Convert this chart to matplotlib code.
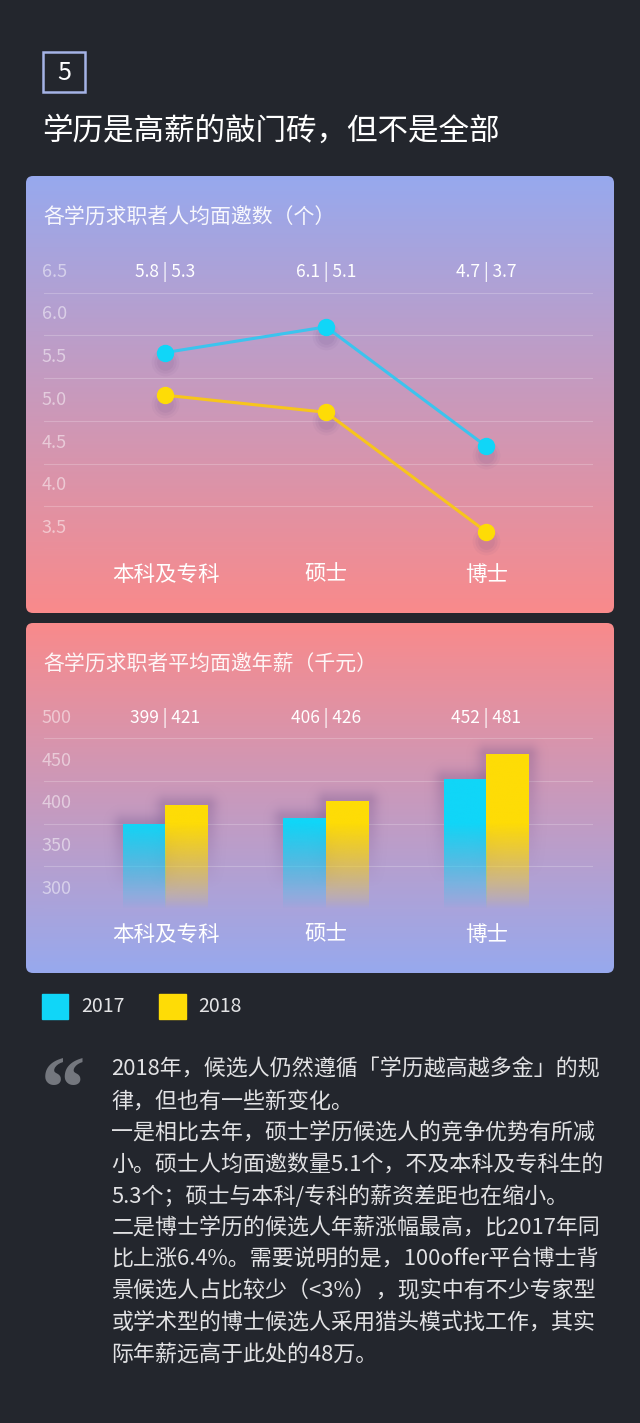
import numpy as np
import matplotlib
matplotlib.use('Agg')
import matplotlib.pyplot as plt
from matplotlib.patches import FancyBboxPatch, Rectangle
from matplotlib.colors import to_rgb
import matplotlib.transforms as mtransforms

plt.rcParams['font.family'] = ['Noto Sans CJK SC', 'DejaVu Sans']

# ---------------- data ----------------
categories = ['本科及专科', '硕士', '博士']
years = ['2017', '2018']
interviews_2017 = [5.8, 6.1, 4.7]
interviews_2018 = [5.3, 5.1, 3.7]
salary_2017 = [399, 406, 452]
salary_2018 = [421, 426, 481]
interview_ticks = [3.5, 4.0, 4.5, 5.0, 5.5, 6.0, 6.5]
salary_ticks = [300, 350, 400, 450, 500]

section_no = '5'
headline = '学历是高薪的敲门砖，但不是全部'
title1 = '各学历求职者人均面邀数（个）'
title2 = '各学历求职者平均面邀年薪（千元）'
paragraph = [
    '2018年，候选人仍然遵循「学历越高越多金」的规',
    '律，但也有一些新变化。',
    '一是相比去年，硕士学历候选人的竞争优势有所减',
    '小。硕士人均面邀数量5.1个，不及本科及专科生的',
    '5.3个；硕士与本科/专科的薪资差距也在缩小。',
    '二是博士学历的候选人年薪涨幅最高，比2017年同',
    '比上涨6.4%。需要说明的是，100offer平台博士背',
    '景候选人占比较少（<3%），现实中有不少专家型',
    '或学术型的博士候选人采用猎头模式找工作，其实',
    '际年薪远高于此处的48万。',
]

# ---------------- style ----------------
W, H, DPI = 640, 1423, 100
BG = '#23262d'
BLUE = '#10d6f8'
YELLOW = '#fedc06'
BLUE_LINE = '#3bc4ee'
YELLOW_LINE = '#f7c51c'
PERI = '#97a9ee'
SALMON = '#f98a8b'
SHADOW = '#6a4a82'

fig = plt.figure(figsize=(W / DPI, H / DPI), dpi=DPI)
fig.patch.set_facecolor(BG)


def fbox(l, t, r, b):
    return [l / W, 1 - b / H, (r - l) / W, (b - t) / H]


bg = fig.add_axes([0, 0, 1, 1])
bg.set_zorder(0)
bg.axis('off')


def gradient_panel(ax, x0, y0, x1, y1, c_top, c_bot):
    patch = FancyBboxPatch((x0, y0), x1 - x0, y1 - y0,
                           boxstyle='round,pad=0,rounding_size=7',
                           fc='none', ec='none')
    ax.add_patch(patch)
    t = np.linspace(0, 1, 256)[:, None, None]
    img = np.array(to_rgb(c_top)) * (1 - t) + np.array(to_rgb(c_bot)) * t
    im = ax.imshow(img, extent=(x0, x1, y1, y0), aspect='auto',
                   interpolation='bicubic', zorder=1)
    im.set_clip_path(patch)


gradient_panel(bg, 26, 176, 614, 613, PERI, SALMON)
gradient_panel(bg, 26, 623, 614, 973, SALMON, PERI)

# header
bg.add_patch(Rectangle((43, 52), 42, 40, fill=False, ec='#a5b3e6', lw=1.8, zorder=2))
bg.text(64, 73, section_no, ha='center', va='center', fontsize=18, color='white', zorder=3)
bg.text(42, 131, headline, ha='left', va='center', fontsize=22, color='white',
        weight='medium', zorder=3)

# chart titles
bg.text(43.5, 218, title1, ha='left', va='center', fontsize=15, color='white', alpha=0.92, zorder=3)
bg.text(43.5, 665, title2, ha='left', va='center', fontsize=15, color='white', alpha=0.92, zorder=3)

# legend
for (lx, tx), c, yr in zip([(41.7, 81), (159, 198.6)], [BLUE, YELLOW], years):
    bg.add_patch(Rectangle((lx, 994), 26.5, 25, color=c, zorder=3))
    bg.text(tx, 1006.5, yr, ha='left', va='center', fontsize=14, color='#e4e4e6', zorder=3)

# quote mark and paragraph
bg.text(41, 1055, '\u201c', ha='left', va='top', fontsize=64, color='#74777e',
        family='Liberation Serif', weight='bold', zorder=3)
for i, line in enumerate(paragraph):
    bg.text(111.5, 1070 + i * 31.65, line, ha='left', va='center', fontsize=15.8,
            color='#e2e2e4', zorder=3)

bg.set_xlim(0, W)
bg.set_ylim(H, 0)

x = np.arange(len(categories))
XL, XR = -0.759, 2.664


def style_axes(ax, ticks, fmt, label_offset_px):
    ax.set_facecolor('none')
    for s in ax.spines.values():
        s.set_visible(False)
    ax.set_yticks(ticks)
    ax.set_yticklabels([])
    ax.tick_params(axis='y', length=0)
    ax.yaxis.grid(True, color='white', alpha=0.22, lw=0.8)
    ax.set_axisbelow(True)
    ax.set_xticks(x)
    ax.set_xticklabels(categories)
    ax.tick_params(axis='x', length=0, pad=10.5, labelsize=15.5, labelcolor='white')
    off = mtransforms.ScaledTranslation(-2 / DPI, label_offset_px / DPI, fig.dpi_scale_trans)
    tr = mtransforms.blended_transform_factory(ax.transAxes, ax.transData) + off
    for v in ticks:
        ax.text(0, v, fmt(v), transform=tr, ha='left', va='center', fontsize=13,
                color='white', alpha=0.5)


# ---------------- chart 1: lines ----------------
ax1 = fig.add_axes(fbox(43.7, 292.7, 593, 549))
ax1.set_zorder(2)
style_axes(ax1, interview_ticks, lambda v: f'{v:.1f}', 21)
for vals, lc, mc in [(interviews_2017, BLUE_LINE, BLUE), (interviews_2018, YELLOW_LINE, YELLOW)]:
    for dy, ms, a in [(-9, 20, 0.05), (-9, 16, 0.07), (-9, 12, 0.08)]:
        tr = ax1.transData + mtransforms.ScaledTranslation(0, dy / DPI, fig.dpi_scale_trans)
        ax1.plot(x, vals, ls='none', marker='o', ms=ms, color=SHADOW, alpha=a,
                 mew=0, transform=tr, zorder=3, clip_on=False)
    ax1.plot(x, vals, color=lc, lw=2.2, marker='o', ms=11.5, mfc=mc, mec=mc,
             zorder=4, clip_on=False)
for i in range(len(categories)):
    ax1.annotate(f'{interviews_2017[i]} | {interviews_2018[i]}', xy=(x[i], 6.5),
                 xytext=(0, 21 * 72 / DPI), textcoords='offset points',
                 ha='center', va='center', fontsize=12.5, color='white')
ax1.set_xlim(XL, XR)
ax1.set_ylim(3.5, 6.5)

# ---------------- chart 2: bars ----------------
ax2 = fig.add_axes(fbox(43.7, 738, 593, 909))
ax2.set_zorder(2)
style_axes(ax2, salary_ticks, lambda v: f'{v:d}', 20)
bw = 0.265
base = salary_ticks[0]
PX_X = (593 - 43.7) / (XR - XL)      # pixels per x unit
PX_Y = (909 - 738) / 200.0           # pixels per y unit


def gradient_bars(ax, bars, color):
    rgb = to_rgb(color)
    for r in bars:
        x0, y0, w, h = r.get_x(), r.get_y(), r.get_width(), r.get_height()
        top = y0 + h
        # blurred dark glow around the bar top
        m = 24.0
        wpx, hpx = w * PX_X, h * PX_Y
        gx = np.linspace(-m, wpx + m, 100)
        gy = np.linspace(m, -hpx, 200)          # px relative to top (positive = above)
        dx = np.maximum(0, np.maximum(-gx, gx - wpx))
        dy = np.maximum(0, gy)
        fx = np.exp(-(dx / 10.0) ** 2)
        fy = np.exp(-(dy / 10.0) ** 2) * np.clip(1 + gy / (0.8 * hpx), 0, 1)
        a = 0.28 * fy[:, None] * fx[None, :]
        glow = np.zeros((len(gy), len(gx), 4))
        glow[..., :3] = to_rgb(SHADOW)
        glow[..., 3] = a
        ax.imshow(glow, extent=(x0 - m / PX_X, x0 + w + m / PX_X, y0, top + m / PX_Y),
                  aspect='auto', origin='upper', interpolation='bilinear', zorder=2)
        n = 256
        ys = np.linspace(top, y0, n)
        alpha = np.clip((ys - base) / 100.0, 0, 1) ** 0.9
        rgba = np.zeros((n, 1, 4))
        rgba[..., :3] = rgb
        rgba[..., 3] = alpha[:, None]
        ax.imshow(rgba, extent=(x0, x0 + w, y0, top), aspect='auto', origin='upper',
                  interpolation='bilinear', zorder=3)


b17 = ax2.bar(x - bw / 2, np.array(salary_2017) - base, width=bw, bottom=base,
              color='none', lw=0)
b18 = ax2.bar(x + bw / 2, np.array(salary_2018) - base, width=bw, bottom=base,
              color='none', lw=0)
gradient_bars(ax2, b17, BLUE)
gradient_bars(ax2, b18, YELLOW)
for i in range(len(categories)):
    ax2.annotate(f'{salary_2017[i]} | {salary_2018[i]}', xy=(x[i], 500),
                 xytext=(0, 20 * 72 / DPI), textcoords='offset points',
                 ha='center', va='center', fontsize=12.5, color='white')
ax2.set_xlim(XL, XR)
ax2.set_ylim(300, 500)

fig.savefig('out.png', dpi=DPI, facecolor=BG)
